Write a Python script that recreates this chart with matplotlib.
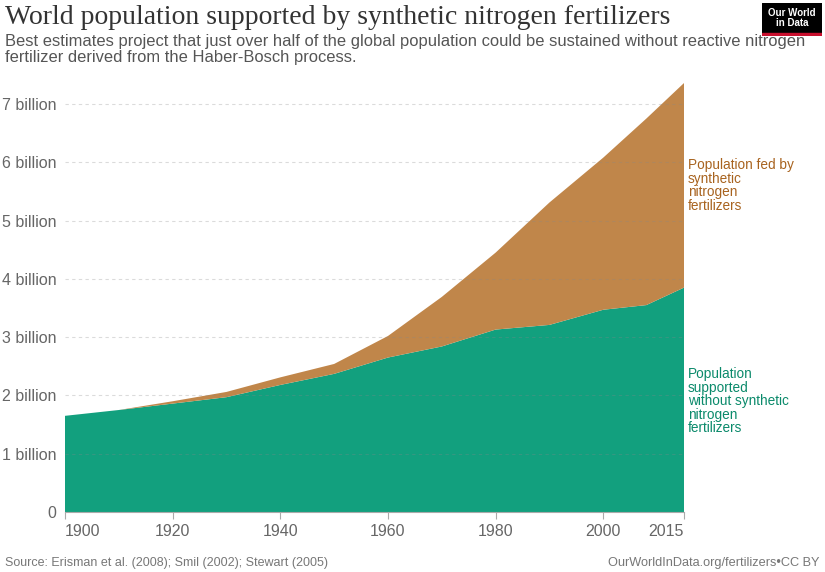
import numpy as np
import matplotlib.pyplot as plt

years = [1900, 1910, 1920, 1930, 1940, 1950, 1960, 1970, 1980, 1990, 2000, 2008, 2015]
# total world population (billions)
total = [1.65, 1.75, 1.90, 2.06, 2.31, 2.54, 3.02, 3.69, 4.45, 5.31, 6.08, 6.75, 7.36]
# population that could be supported without synthetic N fertilizers
without_n = [1.65, 1.75, 1.86, 1.97, 2.18, 2.37, 2.65, 2.84, 3.13, 3.21, 3.47, 3.55, 3.85]
fed_by_n = list(np.array(total) - np.array(without_n))

x_ticks = [1900, 1920, 1940, 1960, 1980, 2000, 2015]
y_ticks = [0, 1, 2, 3, 4, 5, 6, 7]
y_labels = ['0'] + [f'{v} billion' for v in y_ticks[1:]]

green = '#12a07e'
orange = '#c0864a'
sans = 'Liberation Sans'

W, H = 825, 572
fig = plt.figure(figsize=(W / 100, H / 100), dpi=100)
ax_top = 80.7
ax = fig.add_axes([65 / W, (H - 512) / H, (684 - 65) / W, (512 - ax_top) / H])

ax.stackplot(years, without_n, fed_by_n, colors=[green, orange], linewidth=0)
ax.set_xlim(1900, 2015)
ax.set_ylim(0, 7.4)

ax.set_yticks(y_ticks)
ax.set_yticklabels(y_labels, family=sans, fontsize=11.5, color='#666666')
ax.set_xticks(x_ticks)
xl = ax.set_xticklabels([str(t) for t in x_ticks], family=sans, fontsize=11.5, color='#666666')
xl[0].set_ha('left')
xl[-1].set_ha('right')
ax.tick_params(axis='y', length=0, pad=6)
ax.tick_params(axis='x', length=5, color='#aaaaaa', pad=4)
for s in ['top', 'right', 'left']:
    ax.spines[s].set_visible(False)
ax.spines['bottom'].set_color('#aaaaaa')
ax.yaxis.grid(True, linestyle=(0, (3, 3)), color='#888888', alpha=0.3, linewidth=0.8)
ax.set_axisbelow(False)

# series labels
fig.text(688 / W, 1 - 158 / H, 'Population fed by\nsynthetic\nnitrogen\nfertilizers', color='#a8631f',
         family=sans, fontsize=9.8, va='top', ha='left', linespacing=0.96)
fig.text(688 / W, 1 - 367 / H, 'Population\nsupported\nwithout synthetic\nnitrogen\nfertilizers',
         color='#0b8a6b', family=sans, fontsize=9.8, va='top', ha='left', linespacing=0.96)

# title / subtitle
fig.text(5 / W, 1 - 17 / H, 'World population supported by synthetic nitrogen fertilizers',
         family='Liberation Serif', fontsize=20, color='#333333', va='center', ha='left')
fig.text(5 / W, 1 - 34 / H,
         'Best estimates project that just over half of the global population could be sustained without reactive nitrogen\n'
         'fertilizer derived from the Haber-Bosch process.',
         family=sans, fontsize=11.9, color='#555555', va='top', ha='left', linespacing=1.05)

# footer
fig.text(5 / W, 1 - 563 / H, 'Source: Erisman et al. (2008); Smil (2002); Stewart (2005)',
         family=sans, fontsize=9, color='#777777', va='center', ha='left')
fig.text(820 / W, 1 - 563 / H, 'OurWorldInData.org/fertilizers\u2022CC BY',
         family=sans, fontsize=9.2, color='#777777', va='center', ha='right')

# logo
logo = fig.add_axes([762 / W, 1 - 36 / H, 60 / W, 33 / H])
logo.set_xlim(0, 1)
logo.set_ylim(0, 1)
logo.axis('off')
logo.add_patch(plt.Rectangle((0, 0.1), 1, 0.9, color='#000000'))
logo.add_patch(plt.Rectangle((0, 0), 1, 0.1, color='#c8102e'))
logo.text(0.5, 0.56, 'Our World\nin Data', color='white', ha='center', va='center',
          family=sans, fontsize=7, fontweight='bold', linespacing=1.0)

fig.savefig('out.png', dpi=100)
